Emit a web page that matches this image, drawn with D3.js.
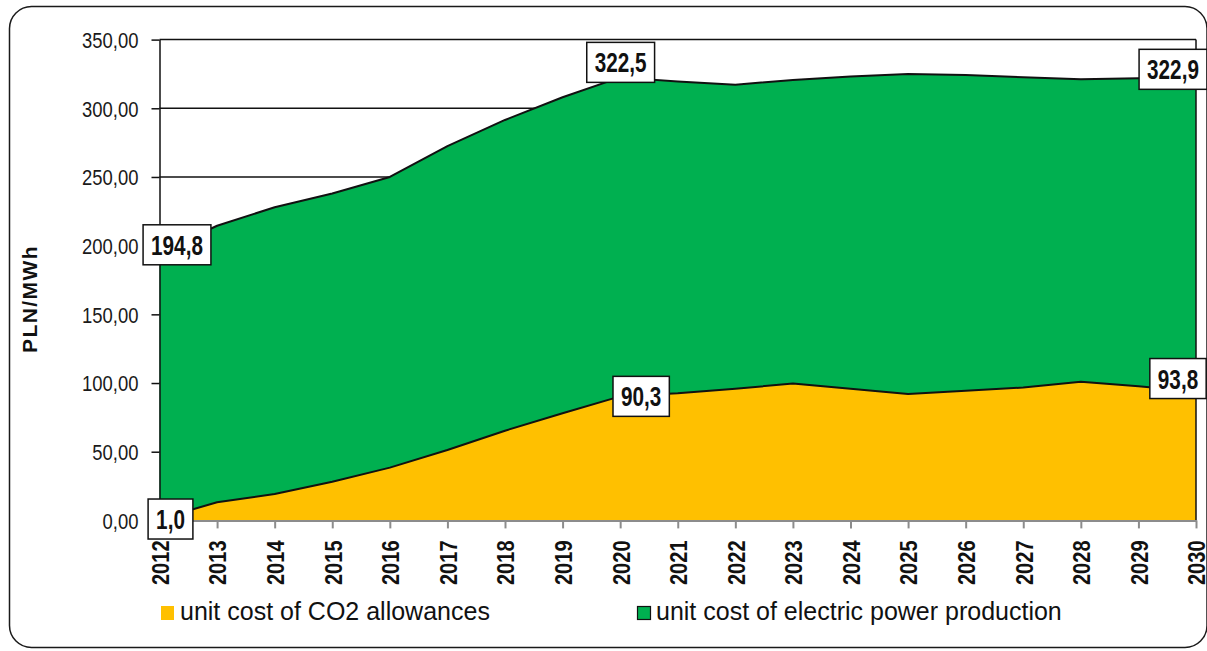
<!DOCTYPE html>
<html>
<head>
<meta charset="utf-8">
<script src="https://cdn.jsdelivr.net/npm/d3@7/dist/d3.min.js"></script>
<style>
  html, body { margin: 0; padding: 0; background: #fff; }
  svg { display: block; }
  text { font-family: "Liberation Sans", Arial, sans-serif; }
</style>
</head>
<body>
<svg id="chart" width="1207" height="651"></svg>
<script>
// Years on the category axis
const years = ["2012","2013","2014","2015","2016","2017","2018","2019","2020","2021",
               "2022","2023","2024","2025","2026","2027","2028","2029","2030"];

// Unit cost of electric power production, PLN/MWh
const powerCost = [194.8, 214.5, 228.0, 238.0, 250.0, 272.5, 291.5, 308.0, 322.5, 319.5,
                   317.2, 320.6, 323.2, 325.0, 324.2, 322.6, 321.2, 321.9, 322.9];

// Unit cost of CO2 allowances, PLN/MWh
const co2Cost = [1.0, 13.2, 19.2, 28.2, 38.4, 51.2, 65.3, 78.0, 90.3, 92.6,
                 95.9, 99.6, 95.9, 92.1, 94.4, 96.7, 101.0, 97.6, 93.8];

// Value axis ticks
const yTicks = [0, 50, 100, 150, 200, 250, 300, 350];

// Series names
const seriesNames = ["unit cost of CO2 allowances", "unit cost of electric power production"];

const colors = { co2: "#FFC000", power: "#00B050" };

// Horizontal squeeze that gives a narrow face from the regular one
const NARROW = 0.82;
const LABEL_NARROW = 0.74;

const svg = d3.select("#chart");

// Outer rounded frame
svg.append("rect")
  .attr("x", 9.5).attr("y", 6.5)
  .attr("width", 1197.5).attr("height", 641)
  .attr("rx", 22).attr("ry", 22)
  .attr("fill", "#fff")
  .attr("stroke", "#1a1a1a").attr("stroke-width", 1.5);

const plot = { left: 159.5, right: 1196, top: 39.6, bottom: 520.4 };

const x = d3.scalePoint().domain(years).range([plot.left, plot.right]);
const y = d3.scaleLinear().domain([0, 350]).range([plot.bottom, plot.top]);

const fmt = d => d3.format(".2f")(d).replace(".", ",");
const fmt1 = d => d3.format(".1f")(d).replace(".", ",");

// Horizontal gridlines
svg.append("g")
  .selectAll("line")
  .data(yTicks.filter(d => d > 0))
  .join("line")
  .attr("x1", plot.left).attr("x2", plot.right)
  .attr("y1", d => y(d)).attr("y2", d => y(d))
  .attr("stroke", "#111").attr("stroke-width", 1.5);

// Overlapping areas: total power cost behind, CO2 component in front
const areaGen = vals => d3.area()
  .x((d, i) => x(years[i]))
  .y0(y(0))
  .y1(d => y(d))(vals);
const lineGen = vals => d3.line()
  .x((d, i) => x(years[i]))
  .y(d => y(d))(vals);

svg.append("path").attr("d", areaGen(powerCost)).attr("fill", colors.power);
svg.append("path").attr("d", lineGen(powerCost))
  .attr("fill", "none").attr("stroke", "#111").attr("stroke-width", 2).attr("stroke-linejoin", "round");

svg.append("path").attr("d", areaGen(co2Cost)).attr("fill", colors.co2);
svg.append("path").attr("d", lineGen(co2Cost))
  .attr("fill", "none").attr("stroke", "#111").attr("stroke-width", 2).attr("stroke-linejoin", "round");

// Right border of plot area
svg.append("line")
  .attr("x1", plot.right).attr("x2", plot.right)
  .attr("y1", plot.top).attr("y2", plot.bottom)
  .attr("stroke", "#111").attr("stroke-width", 1.5);

// Category axis (grey)
const xAxis = svg.append("g")
  .attr("transform", `translate(0,${plot.bottom})`)
  .call(d3.axisBottom(x).tickSize(8).tickSizeOuter(0));
xAxis.select(".domain").attr("stroke", "#8c8c8c").attr("stroke-width", 2);
xAxis.selectAll(".tick line").attr("stroke", "#8c8c8c").attr("stroke-width", 2);
xAxis.selectAll(".tick text")
  .attr("transform", `rotate(-90) scale(${NARROW},1)`)
  .attr("text-anchor", "end")
  .attr("x", -20 / NARROW).attr("y", 0).attr("dy", "0.36em")
  .attr("fill", "#111")
  .style("font-family", "'Liberation Sans', Arial, sans-serif")
  .style("font-size", "24.5px").style("font-weight", "bold");

// Value axis
const yAxis = svg.append("g")
  .attr("transform", `translate(${plot.left},0)`)
  .call(d3.axisLeft(y).tickValues(yTicks).tickFormat(fmt).tickSize(8).tickSizeOuter(0));
yAxis.select(".domain").attr("stroke", "#111").attr("stroke-width", 1.5);
yAxis.selectAll(".tick line").attr("stroke", "#111").attr("stroke-width", 1.5);
yAxis.selectAll(".tick text")
  .attr("transform", `scale(${NARROW},1)`)
  .attr("x", -21 / NARROW).attr("dy", "0.35em")
  .attr("fill", "#1a1a1a")
  .style("font-family", "'Liberation Sans', Arial, sans-serif")
  .style("font-size", "22.5px");

// Value axis title
svg.append("text")
  .attr("transform", "translate(37,299) rotate(-90)")
  .attr("text-anchor", "middle")
  .attr("fill", "#111")
  .style("font-size", "21px").style("font-weight", "bold").style("letter-spacing", "1.4px")
  .text("PLN/MWh");

// Value labels on selected points; box centre offset from its point
const labelSpecs = [
  { series: powerCost, i: 0,  dx: 17.5,  dy: -8 },
  { series: powerCost, i: 8,  dx: 0.5,   dy: -15 },
  { series: powerCost, i: 18, dx: -23,   dy: -7.5 },
  { series: co2Cost,   i: 0,  dx: 11,    dy: 0 },
  { series: co2Cost,   i: 8,  dx: 21,    dy: 0 },
  { series: co2Cost,   i: 18, dx: -18,   dy: -13 }
];

const labels = svg.append("g");
labelSpecs.forEach(s => {
  const v = s.series[s.i];
  const cx = x(years[s.i]) + s.dx;
  const cy = y(v) + s.dy;
  const g = labels.append("g").attr("transform", `translate(${cx},${cy})`);
  const rect = g.append("rect").attr("fill", "#fff").attr("stroke", "#111").attr("stroke-width", 1.5);
  const t = g.append("text")
    .attr("transform", `scale(${LABEL_NARROW},1)`)
    .attr("text-anchor", "middle")
    .attr("dy", "0.36em")
    .attr("fill", "#111")
    .style("font-size", "28px").style("font-weight", "bold")
    .text(fmt1(v));
  const w = t.node().getComputedTextLength() * LABEL_NARROW + 16;
  const h = 40;
  rect.attr("x", -w / 2).attr("y", -h / 2).attr("width", w).attr("height", h);
});

// Legend
const legend = svg.append("g");
legend.append("rect")
  .attr("x", 161).attr("y", 606).attr("width", 13).attr("height", 14)
  .attr("fill", colors.co2);
legend.append("text")
  .attr("x", 180).attr("y", 620)
  .attr("fill", "#111")
  .style("font-size", "25px")
  .text(seriesNames[0]);
legend.append("rect")
  .attr("x", 637.5).attr("y", 606.5).attr("width", 13).attr("height", 13)
  .attr("fill", colors.power).attr("stroke", "#111").attr("stroke-width", 1.2);
legend.append("text")
  .attr("x", 656).attr("y", 620)
  .attr("fill", "#111")
  .style("font-size", "25px")
  .text(seriesNames[1]);
</script>
</body>
</html>
